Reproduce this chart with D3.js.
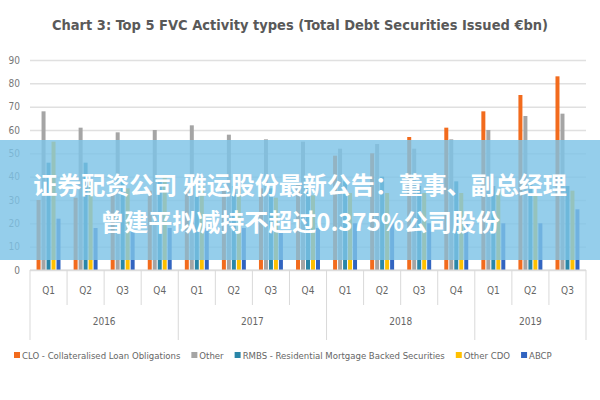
<!DOCTYPE html><html><head><meta charset="utf-8"><script src="https://cdn.jsdelivr.net/npm/d3@7"></script>
<style>body{margin:0;background:#fff}</style></head><body><svg id="c" width="600" height="400"></svg>
<script>
const years=["2016","2017","2018","2019"];
const quarters=["Q1","Q2","Q3","Q4","Q1","Q2","Q3","Q4","Q1","Q2","Q3","Q4","Q1","Q2","Q3"];
const seriesNames=["CLO - Collateralised Loan Obligations","Other","RMBS - Residential Mortgage Backed Securities","Other CDO","ABCP"];
const colors=["#F26B1D","#A5A5A5","#2A86A8","#FFC000","#3264C0"];
const clo=[30,31,32,34,35,34,35,37,49,50,57,61,68,75,83];
const other=[68,61,59,60,62,58,56,55,52,54,52,56,60,66,67];
const rmbs=[46,46,38,38,38,36,35,36,38,40,36,38,36,38,36];
const otherCdo=[55,38,35,40,36,35,31,32,33,33,33,33,34,33,34];
const abcp=[22,18,17,18,18,18,17,18,20,20,20,20,20,20,26];
const yTicks=[0,10,20,30,40,50,60,70,80,90];
const S=[clo,other,rmbs,otherCdo,abcp];
const F="DejaVu Sans Condensed, DejaVu Sans";
const svg=d3.select("#c");
const L=30,R=586,T=60,B=270;
const x=d3.scaleBand().domain(d3.range(15)).range([L,R]).paddingInner(0.3).paddingOuter(0.15);
const xs=d3.scaleBand().domain(d3.range(5)).range([0,x.bandwidth()]).padding(0.2);
const y=d3.scaleLinear().domain([0,90]).range([B,T]);
svg.append("text").attr("x",300).attr("y",30).attr("text-anchor","middle").attr("font-family",F).attr("font-stretch","condensed").attr("font-size",14.5).attr("font-weight","bold").attr("fill","#595959").text("Chart 3: Top 5 FVC Activity types (Total Debt Securities Issued €bn)");
const ya=svg.append("g").attr("transform",`translate(${L},0)`).call(d3.axisLeft(y).tickValues(yTicks).tickSize(-(R-L)).tickPadding(10));
ya.select(".domain").remove();
ya.selectAll("line").attr("stroke","#e0e0e0").attr("stroke-width",1.5);
ya.selectAll("text").attr("fill","#777").attr("font-family",F).attr("font-stretch","condensed").attr("font-size",10);
S.forEach((arr,si)=>{svg.append("g").selectAll("rect").data(arr).join("rect")
 .attr("x",(d,i)=>x(i)+xs(si)).attr("width",xs.bandwidth()).attr("y",d=>y(d)).attr("height",d=>B-y(d)).attr("fill",colors[si]);});
const cellX=i=>L+(R-L)*i/15;
svg.append("line").attr("x1",L).attr("x2",R).attr("y1",B).attr("y2",B).attr("stroke","#d9d9d9");
const g=svg.append("g").attr("font-family",F).attr("font-stretch","condensed").attr("font-size",10).attr("fill","#666");
for(let i=0;i<=15;i++){const yr=[0,4,8,12,15].includes(i);g.append("line").attr("x1",cellX(i)).attr("x2",cellX(i)).attr("y1",B).attr("y2",yr?340:305).attr("stroke","#d9d9d9");}
quarters.forEach((q,i)=>g.append("text").attr("x",x(i)+x.bandwidth()/2).attr("y",294).attr("text-anchor","middle").text(q));
const yStart=[0,4,8,12],yEnd=[4,8,12,15];
years.forEach((yy,k)=>g.append("text").attr("x",(cellX(yStart[k])+cellX(yEnd[k]))/2).attr("y",325).attr("text-anchor","middle").text(yy));
const lg=svg.append("g").attr("font-family",F).attr("font-stretch","condensed").attr("font-size",9.5).attr("fill","#666");
let lx=14;
seriesNames.forEach((n,i)=>{lg.append("rect").attr("x",lx).attr("y",352).attr("width",6).attr("height",6).attr("fill",colors[i]);
 const t=lg.append("text").attr("x",lx+8).attr("y",359).text(n);lx+=8+t.node().getComputedTextLength()+11;});
svg.append("rect").attr("x",0).attr("y",140).attr("width",600).attr("height",120).attr("fill","#7EC3E6").attr("opacity",0.82);
const bt=svg.append("g").attr("font-family","Noto Sans CJK SC").attr("font-weight","bold").attr("font-size",24).attr("fill","#fff").attr("text-anchor","middle");
bt.append("text").attr("x",300).attr("y",194).text("证券配资公司 雅运股份最新公告：董事、副总经理");
bt.append("text").attr("x",300).attr("y",231).text("曾建平拟减持不超过0.375%公司股份");
</script></body></html>
